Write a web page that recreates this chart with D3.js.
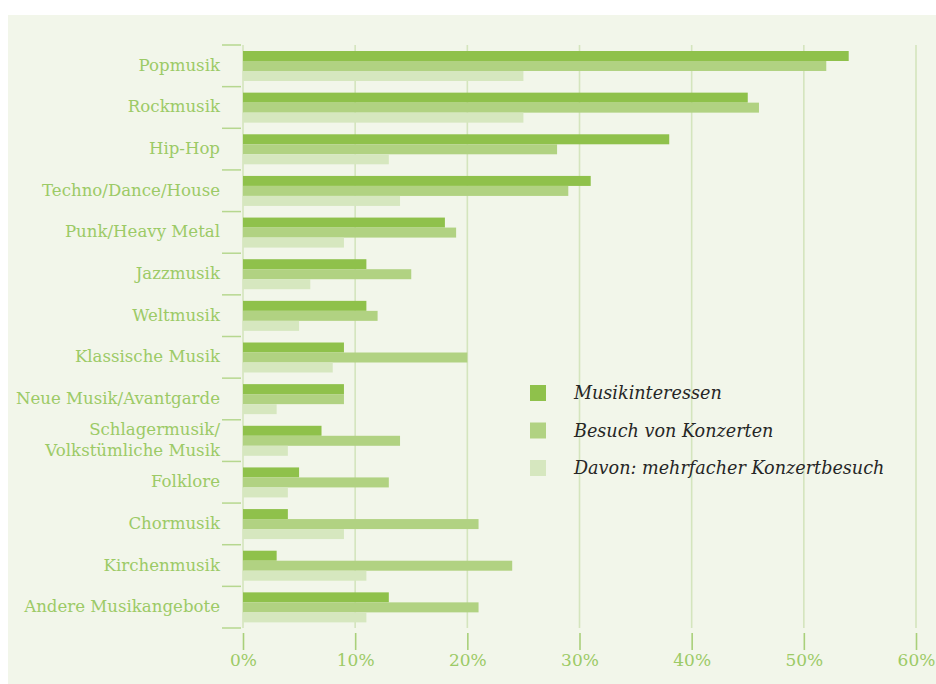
<!DOCTYPE html>
<html>
<head>
<meta charset="utf-8">
<script src="https://cdn.jsdelivr.net/npm/d3@7"></script>
<style>
  html, body { margin: 0; padding: 0; background: #ffffff; }
  svg { display: block; }
</style>
</head>
<body>
<svg id="chart" width="936" height="684"></svg>
<script>
// Genres, top to bottom
const categories = [
  "Popmusik", "Rockmusik", "Hip-Hop", "Techno/Dance/House", "Punk/Heavy Metal",
  "Jazzmusik", "Weltmusik", "Klassische Musik", "Neue Musik/Avantgarde",
  "Schlagermusik/\nVolkstümliche Musik", "Folklore", "Chormusik", "Kirchenmusik",
  "Andere Musikangebote"
];

// Percentages per series
const musikinteressen = [54, 45, 38, 31, 18, 11, 11, 9, 9, 7, 5, 4, 3, 13];
const konzertbesuch   = [52, 46, 28, 29, 19, 15, 12, 20, 9, 14, 13, 21, 24, 21];
const mehrfach        = [25, 25, 13, 14, 9, 6, 5, 8, 3, 4, 4, 9, 11, 11];

const seriesNames = ["Musikinteressen", "Besuch von Konzerten", "Davon: mehrfacher Konzertbesuch"];
const seriesColors = ["#8fc14b", "#b1d282", "#d6e7bf"];
const seriesValues = [musikinteressen, konzertbesuch, mehrfach];

const tickValues = [0, 10, 20, 30, 40, 50, 60];
const tickLabels = ["0%", "10%", "20%", "30%", "40%", "50%", "60%"];

const svg = d3.select("#chart");
const labelColor = "#9cca66";
const serif = "'DejaVu Serif', 'Liberation Serif', serif";

// panel background
svg.append("rect")
  .attr("x", 8).attr("y", 15).attr("width", 928).attr("height", 669)
  .attr("fill", "#f2f6ea");

const x = d3.scaleLinear().domain([0, 60]).range([243, 916]);
const y = d3.scaleBand().domain(categories).range([45, 628]);
const yInner = d3.scaleBand().domain(d3.range(3)).range([6, 36]);

// vertical gridlines
svg.append("g")
  .selectAll("line")
  .data(tickValues)
  .join("line")
  .attr("x1", d => x(d)).attr("x2", d => x(d))
  .attr("y1", 45).attr("y2", 628)
  .attr("stroke", "#d4e5bd")
  .attr("stroke-width", 1.6);

// bars
const groups = svg.append("g")
  .selectAll("g")
  .data(categories)
  .join("g")
  .attr("transform", d => `translate(0,${y(d)})`);

groups.selectAll("rect")
  .data((d, i) => seriesValues.map((vals, s) => ({ s, v: vals[i] })))
  .join("rect")
  .attr("x", x(0))
  .attr("y", d => yInner(d.s))
  .attr("width", d => x(d.v) - x(0))
  .attr("height", yInner.bandwidth())
  .attr("fill", d => seriesColors[d.s]);

// left axis: boundary ticks and labels
const bounds = categories.map(c => y(c)).concat([628]);
svg.append("g")
  .selectAll("line")
  .data(bounds)
  .join("line")
  .attr("x1", 222).attr("x2", 241)
  .attr("y1", d => d).attr("y2", d => d)
  .attr("stroke", "#b6d78f")
  .attr("stroke-width", 1.5);

const labels = svg.append("g")
  .selectAll("text")
  .data(categories)
  .join("text")
  .attr("x", 220)
  .attr("y", d => y(d) + y.bandwidth() / 2)
  .attr("text-anchor", "end")
  .attr("font-family", serif)
  .attr("font-size", 16.6)
  .attr("fill", labelColor);

labels.each(function(d) {
  const lines = d.split("\n");
  const t = d3.select(this);
  const lh = 21;
  lines.forEach((ln, k) => {
    t.append("tspan")
      .attr("x", 220)
      .attr("dy", k === 0 ? (5 - (lines.length - 1) * lh / 2) : lh)
      .text(ln);
  });
});

// bottom axis
const xAxis = d3.axisBottom(x)
  .tickValues(tickValues)
  .tickFormat((d, i) => tickLabels[i])
  .tickSize(17)
  .tickPadding(4);

const gx = svg.append("g")
  .attr("transform", "translate(0,633)")
  .call(xAxis);
gx.select(".domain").remove();
gx.selectAll(".tick line").attr("stroke", "#a9d07a").attr("stroke-width", 1.6);
gx.selectAll(".tick text")
  .attr("font-family", serif)
  .attr("font-size", 17)
  .attr("fill", labelColor);

// legend
const legend = svg.append("g")
  .selectAll("g")
  .data(seriesNames)
  .join("g")
  .attr("transform", (d, i) => `translate(530,${385 + i * 37.5})`);

legend.append("rect")
  .attr("width", 16).attr("height", 16)
  .attr("fill", (d, i) => seriesColors[i]);

legend.append("text")
  .attr("x", 44).attr("y", 14)
  .attr("font-family", serif)
  .attr("font-style", "italic")
  .attr("font-size", 17.6)
  .attr("fill", "#262626")
  .text(d => d);
</script>
</body>
</html>
